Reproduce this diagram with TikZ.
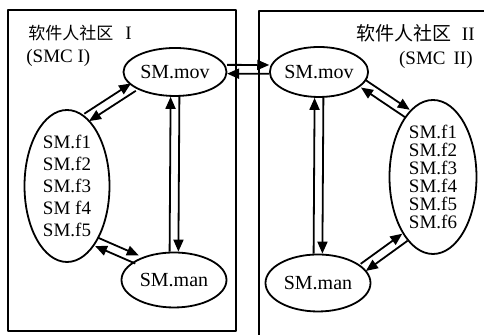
\documentclass[tikz,border=0pt]{standalone}
\usepackage{fontspec}
\setmainfont{Liberation Serif}
\newfontfamily\cjk{Noto Sans CJK SC}
\usepackage{tikz}
\usetikzlibrary{arrows.meta,calc,shapes.geometric}
\tikzset{
every picture/.style={line join=round},
sm node/.style={
  draw,
  ellipse,
  inner sep=0pt,
  line width=0.9pt,
  fill=white,
  align=center,
  font=\fontsize{10}{11}\selectfont
},
sm link/.style={
  draw,
  line width=0.9pt,
  -{Triangle[length=6pt,width=5pt]}
},
community/.style={draw, line width=1.1pt},
community label/.style={font=\fontsize{9.5}{11}\selectfont, inner sep=0pt}
}

\begin{document}
\begin{tikzpicture}[x=0.5pt,y=0.5pt]
\useasboundingbox (0,0) rectangle (484,335);
% the two communities
\draw[community] (8,4) rectangle (236,325);
\draw[community] (484,324) -- (259,324) -- (259,0);
\node[community label,anchor=west] (titleL) at (28,302) {{\cjk\fontsize{8.5}{10}\selectfont 软件人社区}\hspace{6pt}I};
\node[community label,anchor=west] (smcL) at (26,277) {(SMC I)};
\node[community label,anchor=east] (titleR) at (475,302) {{\cjk\fontsize{9.5}{10}\selectfont 软件人社区}\hspace{5pt}II};
\node[community label,anchor=east] (smcR) at (473,275) {(SMC\hspace{4pt}II)};
% software members, community I
\node[sm node, minimum width=51.5pt, minimum height=24pt] (movL) at (175,263) {SM.mov};
\node[sm node, minimum width=42.5pt, minimum height=76pt, font=\fontsize{9.5}{11}\selectfont] (fL) at (67,149) {SM.f1\\SM.f2\\SM.f3\\SM f4\\SM.f5};
\node[sm node, minimum width=52.5pt, minimum height=27.5pt] (manL) at (174,55) {SM.man};
% software members, community II
\node[sm node, minimum width=48pt, minimum height=25pt] (movR) at (319,263) {SM.mov};
\node[sm node, minimum width=43.5pt, minimum height=77pt, font=\fontsize{9.5}{9}\selectfont] (fR) at (433,158) {SM.f1\\SM.f2\\SM.f3\\SM.f4\\SM.f5\\SM.f6};
\node[sm node, minimum width=52.5pt, minimum height=28.5pt] (manR) at (318,52) {SM.man};
% two-way links, one arrow each way
\foreach \a/\aa/\b/\bb in {fL/74/movL/200, fL/298/manL/151, manL/north/movL/south, movL/3/movR/177, movR/345/fR/112, manR/19/fR/245, manR/north/movR/south} {
  \draw[sm link] ($(\a.\aa)!2.2pt!90:(\b.\bb)$) -- ($(\b.\bb)!2.2pt!-90:(\a.\aa)$);
  \draw[sm link] ($(\b.\bb)!2.2pt!90:(\a.\aa)$) -- ($(\a.\aa)!2.2pt!-90:(\b.\bb)$);
}
\end{tikzpicture}
\end{document}
